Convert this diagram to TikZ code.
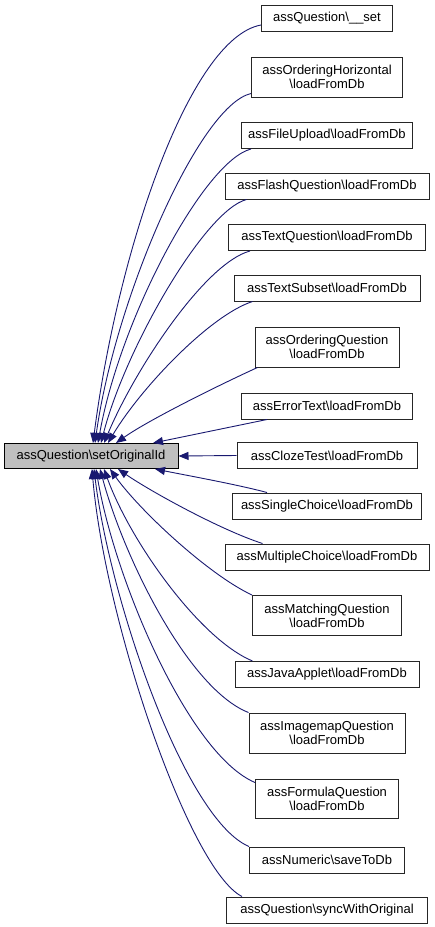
\documentclass[tikz,border=0pt]{standalone}
\usepackage{fontspec}
\setmainfont{Liberation Sans}
\usetikzlibrary{arrows.meta,calc}
\definecolor{edgeblue}{RGB}{25,25,112}
\definecolor{maingrey}{RGB}{191,191,191}
\begin{document}
\begin{tikzpicture}[x=1pt,y=-1pt,
  every node/.style={font=\fontsize{13}{14}\selectfont, inner sep=0pt, align=center},
  fn/.style={draw=black!85, line width=1pt, fill=white, minimum height=#1},
  fn/.default=26pt,
  mainbox/.style={draw=black, line width=1pt, fill=maingrey, minimum height=25pt, minimum width=174pt},
  edge/.style={draw=edgeblue, line width=0.9pt, -{Triangle[length=10pt,width=8pt]}}]
\useasboundingbox (0,0) rectangle (435,927);
\node[mainbox] (main) at (91,456) {assQuestion\textbackslash setOriginalId};
\node[fn, minimum width=131pt] (n1) at (327,18.5) {assQuestion\textbackslash\_\_set};
\node[fn=40pt, minimum width=151pt] (n2) at (327,77) {assOrderingHorizontal\\\textbackslash loadFromDb};
\node[fn, minimum width=171pt] (n3) at (327,135.5) {assFileUpload\textbackslash loadFromDb};
\node[fn, minimum width=204pt] (n4) at (327,186) {assFlashQuestion\textbackslash loadFromDb};
\node[fn, minimum width=197pt] (n5) at (327,237.5) {assTextQuestion\textbackslash loadFromDb};
\node[fn, minimum width=186pt] (n6) at (327,288) {assTextSubset\textbackslash loadFromDb};
\node[fn=40pt, minimum width=144pt] (n7) at (327,347) {assOrderingQuestion\\\textbackslash loadFromDb};
\node[fn, minimum width=171pt] (n8) at (327,406) {assErrorText\textbackslash loadFromDb};
\node[fn, minimum width=180pt] (n9) at (327,455.5) {assClozeTest\textbackslash loadFromDb};
\node[fn, minimum width=189pt] (n10) at (327,506) {assSingleChoice\textbackslash loadFromDb};
\node[fn, minimum width=204pt] (n11) at (327,557) {assMultipleChoice\textbackslash loadFromDb};
\node[fn=40pt, minimum width=149pt] (n12) at (327,615.5) {assMatchingQuestion\\\textbackslash loadFromDb};
\node[fn, minimum width=184pt] (n13) at (327,674.5) {assJavaApplet\textbackslash loadFromDb};
\node[fn=40pt, minimum width=156pt] (n14) at (327,733) {assImagemapQuestion\\\textbackslash loadFromDb};
\node[fn=39pt, minimum width=143pt] (n15) at (327,798.5) {assFormulaQuestion\\\textbackslash loadFromDb};
\node[fn, minimum width=155pt] (n16) at (327,860) {assNumeric\textbackslash saveToDb};
\node[fn, minimum width=201pt] (n17) at (327,910) {assQuestion\textbackslash syncWithOriginal};
% upper edges
\draw[edge] ($(n1.south west)+(0,-7)$) .. controls +(-71,13) and +(25,-194) .. ($(main.north)+(2,0)$);
\draw[edge] ($(n2.south west)+(0,-4)$) .. controls +(-52,12) and +(20,-144) .. ($(main.north)+(4,0)$);
\draw[edge] ($(n3.south west)+(10,0)$) .. controls +(-47,12) and +(22,-124) .. ($(main.north)+(7,0)$);
\draw[edge] ($(n4.south west)+(22,0)$) .. controls +(-42,11) and +(24,-94) .. ($(main.north)+(10,0)$);
\draw[edge] ($(n5.south west)+(22,0)$) .. controls +(-45,12) and +(31,-74) .. ($(main.north)+(13,0)$);
\draw[edge] ($(n6.south west)+(19,0)$) .. controls +(-43,14) and +(32,-54) .. ($(main.north)+(17,0)$);
\draw[edge] ($(n7.south west)+(3,0)$) .. controls +(-33,15) and +(34,-24) .. ($(main.north)+(25,0)$);
\draw[edge] ($(n8.south west)+(26,0)$) -- ($(main.north)+(62,0)$);
\draw[edge] (n9.west) -- (main.east);
% lower edges
\draw[edge] ($(n10.north west)+(35,0)$) .. controls +(-30,-8) and +(35,7) .. ($(main.south)+(64,0)$);
\draw[edge] ($(n11.north west)+(38,0)$) .. controls +(-43,-14) and +(32,22) .. ($(main.south)+(27,0)$);
\draw[edge] (n12.north west) .. controls +(-43,-20) and +(30,42) .. ($(main.south)+(19,0)$);
\draw[edge] ($(n13.north west)+(18,0)$) .. controls +(-53,-22) and +(26,72) .. ($(main.south)+(13,0)$);
\draw[edge] (n14.north west) .. controls +(-59,-23) and +(25,92) .. ($(main.south)+(9,0)$);
\draw[edge] ($(n15.north west)+(0,4)$) .. controls +(-66,-28) and +(19,112) .. ($(main.south)+(5,0)$);
\draw[edge] (n16.north west) .. controls +(-64,-27) and +(16,132) .. ($(main.south)+(3,0)$);
\draw[edge] ($(n17.north west)+(16,0)$) .. controls +(-53,-27) and +(13,152) .. ($(main.south)+(1,0)$);
\end{tikzpicture}
\end{document}
